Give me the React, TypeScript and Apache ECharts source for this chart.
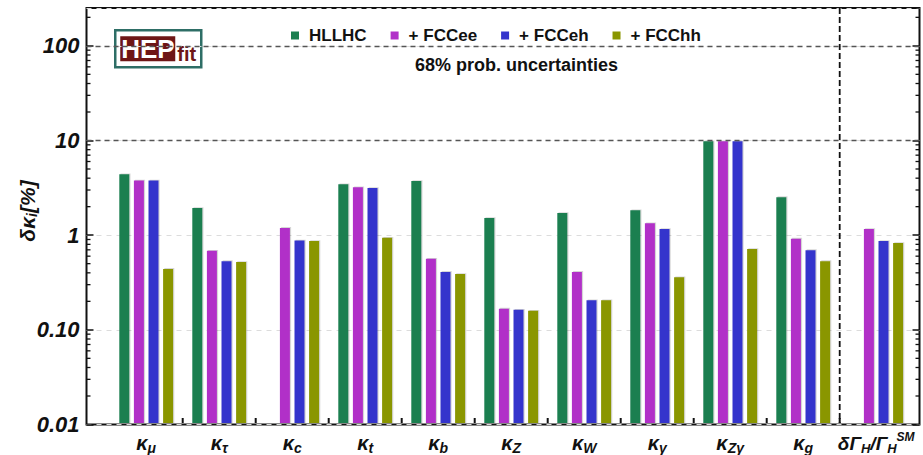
import React, { useEffect, useRef } from 'react';
import * as echarts from 'echarts';

// Couplings (rich-text labels for the category axis)
const CATEGORIES = [
  '{k|κ}{s|μ}',
  '{k|κ}{s|τ}',
  '{k|κ}{s|c}',
  '{k|κ}{s|t}',
  '{k|κ}{s|b}',
  '{k|κ}{s|Z}',
  '{k|κ}{s|W}',
  '{k|κ}{s|γ}',
  '{k|κ}{s|Zγ}',
  '{k|κ}{s|g}',
  '{g|δΓ}{h|H}{g|/Γ}{h|H}{p|SM}',
];

const SERIES_NAMES = ['HLLHC', '+ FCCee', '+ FCCeh', '+ FCChh'];
const SERIES_COLORS = ['#1b7f50', '#b130c8', '#3434cc', '#8a9600'];

// 68% probability uncertainties, in percent
const HLLHC = [4.33, 1.9, null, 3.4, 3.68, 1.49, 1.68, 1.8, 9.7, 2.48, null];
const FCCEE = [3.72, 0.67, 1.17, 3.16, 0.55, 0.163, 0.4, 1.31, 9.7, 0.9, 1.14];
const FCCEH = [3.72, 0.52, 0.86, 3.1, 0.4, 0.159, 0.2, 1.14, 9.7, 0.68, 0.85];
const FCCHH = [0.43, 0.51, 0.85, 0.92, 0.38, 0.155, 0.2, 0.35, 0.7, 0.52, 0.81];
const SERIES_VALUES = [HLLHC, FCCEE, FCCEH, FCCHH];

// Log axis
const Y_MIN = 0.01;
const Y_MAX = 251;
const Y_TICK_LABELS = ['0.01', '0.10', '1', '10', '100'];
const DECADES = [0.01, 0.1, 1, 10, 100];
const MANTISSAS = [2, 3, 4, 5, 6, 7, 8, 9];
const REFERENCE_LINES = [10, 100];

// Category boundaries that carry a tick; the last one is the dashed divider
const BOUNDARIES = [1, 2, 3, 4, 5, 6, 7, 8, 9, 10];
const DIVIDER_INDEX = 10;

const FONT = "'Liberation Sans', Arial, Helvetica, sans-serif";

const labelStyle = (size: number, lineHeight: number, verticalAlign?: string) => ({
  fontFamily: FONT,
  fontSize: size,
  fontWeight: 'bold',
  fontStyle: 'italic',
  color: '#111',
  lineHeight,
  ...(verticalAlign ? { verticalAlign } : {}),
});

export default function App() {
  const ref = useRef<HTMLDivElement>(null);

  useEffect(() => {
    const chart = echarts.init(ref.current!, null, { renderer: 'svg' });

    const minorTicks: number[][] = [];
    DECADES.forEach((d) =>
      MANTISSAS.forEach((m) => {
        const v = m * d;
        if (v < Y_MAX) minorTicks.push([0.5, v]);
      })
    );

    const gridFrame = { left: 86.5, right: 3.5, top: 8, bottom: 30.5 };
    const gridBars = { left: 109.7, right: 10.3, top: 8, bottom: 30.5 };

    const logAxisBase = {
      type: 'log',
      logBase: 10,
      min: Y_MIN,
      max: Y_MAX,
    };

    const barSeries = SERIES_VALUES.map((vals, s) => ({
      type: 'custom',
      name: SERIES_NAMES[s],
      xAxisIndex: 1,
      yAxisIndex: 2,
      z: 3,
      itemStyle: { color: SERIES_COLORS[s] },
      encode: { x: 0, y: 1 },
      data: vals
        .map((v, i) => (v == null ? null : [i, v]))
        .filter((d) => d !== null),
      renderItem: (params: any, api: any) => {
        const i = api.value(0);
        const v = api.value(1);
        const top = api.coord([i, v]);
        const band = api.size([1, 1])[0];
        const cs = params.coordSys;
        const w = band * 0.137;
        const cx = top[0] + (s - 1.5) * band * 0.2;
        const bottom = cs.y + cs.height;
        return {
          type: 'group',
          children: [
            {
              type: 'rect',
              shape: { x: cx - w / 2 + 1.2, y: top[1] - 0.8, width: w, height: bottom - top[1] + 0.8 },
              style: { fill: 'rgba(0,0,0,0.16)' },
            },
            {
              type: 'rect',
              shape: { x: cx - w / 2, y: top[1], width: w, height: bottom - top[1] },
              style: { fill: SERIES_COLORS[s] },
            },
          ],
        };
      },
    }));

    const option: any = {
      animation: false,
      backgroundColor: '#ffffff',
      textStyle: { fontFamily: FONT },
      grid: [
        { ...gridFrame, show: true, borderColor: '#111', borderWidth: 2, backgroundColor: 'transparent' },
        { ...gridBars },
      ],
      title: {
        text: '68% prob. uncertainties',
        left: 410,
        top: 51,
        textStyle: { fontFamily: FONT, fontSize: 18, fontWeight: 'bold', color: '#111' },
      },
      legend: {
        data: SERIES_NAMES,
        left: 286,
        top: 22,
        icon: 'rect',
        itemWidth: 8,
        itemHeight: 8,
        itemGap: 24,
        textStyle: { fontFamily: FONT, fontSize: 17, fontWeight: 'bold', color: '#111', padding: [0, 0, 0, 5] },
      },
      xAxis: [
        { gridIndex: 0, type: 'value', min: 0, max: 1, show: false },
        {
          gridIndex: 1,
          type: 'category',
          data: CATEGORIES,
          axisLine: { show: false },
          axisTick: { show: false },
          splitLine: { show: false },
          axisLabel: {
            margin: 8,
            interval: 0,
            rich: {
              k: labelStyle(20, 24),
              s: labelStyle(14, 14, 'bottom'),
              g: labelStyle(19, 24),
              h: labelStyle(13, 13, 'bottom'),
              p: labelStyle(12, 13, 'top'),
            },
          },
        },
      ],
      yAxis: [
        {
          ...logAxisBase,
          gridIndex: 0,
          position: 'left',
          axisLine: { show: false },
          axisTick: { show: true, inside: true, length: 7, lineStyle: { color: '#111', width: 1.5 } },
          splitLine: { show: true, lineStyle: { color: '#dcdcdc', type: [5, 5], width: 1 } },
          axisLabel: {
            margin: 7,
            showMaxLabel: false,
            fontFamily: FONT,
            fontSize: 22,
            fontWeight: 'bold',
            fontStyle: 'italic',
            color: '#111',
            formatter: (v: number) => {
              const e = Math.log10(v);
              const r = Math.round(e);
              if (Math.abs(e - r) > 1e-6) return '';
              return Y_TICK_LABELS[r + 2] ?? '';
            },
          },
        },
        {
          ...logAxisBase,
          gridIndex: 0,
          position: 'right',
          axisLine: { show: false },
          axisTick: { show: true, inside: true, length: 7, lineStyle: { color: '#111', width: 1.5 } },
          splitLine: { show: false },
          axisLabel: { show: false },
        },
        { ...logAxisBase, gridIndex: 1, show: false, splitLine: { show: false } },
      ],
      series: [
        {
          // minor log ticks on both vertical edges, plus the 10% / 100% reference lines
          type: 'custom',
          xAxisIndex: 0,
          yAxisIndex: 0,
          silent: true,
          z: 1,
          data: minorTicks,
          encode: { x: 0, y: 1 },
          renderItem: (params: any, api: any) => {
            const y = api.coord([0, api.value(1)])[1];
            const cs = params.coordSys;
            const st = { stroke: '#111', lineWidth: 1.3 };
            return {
              type: 'group',
              children: [
                { type: 'line', shape: { x1: cs.x, y1: y, x2: cs.x + 4, y2: y }, style: st },
                { type: 'line', shape: { x1: cs.x + cs.width - 4, y1: y, x2: cs.x + cs.width, y2: y }, style: st },
              ],
            };
          },
          markLine: {
            silent: true,
            symbol: 'none',
            label: { show: false },
            lineStyle: { color: '#555', type: [5, 4], width: 1.3 },
            data: REFERENCE_LINES.map((v) => ({ yAxis: v })),
          },
        },
        {
          // category separators and the dashed divider before the width ratio
          type: 'custom',
          xAxisIndex: 1,
          yAxisIndex: 2,
          silent: true,
          z: 4,
          data: BOUNDARIES.map((b) => [b, 1]),
          encode: { x: 0, y: 1 },
          renderItem: (params: any, api: any) => {
            const idx = api.value(0);
            const band = api.size([1, 1])[0];
            const x = api.coord([idx, 1])[0] - band / 2;
            const cs = params.coordSys;
            const bottom = cs.y + cs.height;
            const children: any[] = [
              { type: 'line', shape: { x1: x, y1: bottom, x2: x, y2: bottom - 5 }, style: { stroke: '#111', lineWidth: 2 } },
            ];
            if (idx === DIVIDER_INDEX) {
              children.push({
                type: 'line',
                shape: { x1: x, y1: cs.y, x2: x, y2: bottom },
                style: { stroke: '#111', lineWidth: 1.8, lineDash: [6, 3] },
              });
            }
            return { type: 'group', children };
          },
        },
        ...barSeries,
      ],
      graphic: [
        {
          // y-axis title
          type: 'text',
          x: 27,
          y: 211,
          rotation: Math.PI / 2,
          z: 100,
          style: {
            text: '{a|δκ}{b|i}{a|[%]}',
            align: 'center',
            verticalAlign: 'middle',
            rich: {
              a: { font: `italic bold 21px ${FONT}`, fill: '#111', lineHeight: 24 },
              b: { font: `italic bold 14px ${FONT}`, fill: '#111', lineHeight: 14, verticalAlign: 'bottom' },
            },
          },
        },
        {
          type: 'group',
          left: 114,
          top: 29,
          z: 100,
          children: [
            {
              type: 'rect',
              shape: { x: 0, y: 0, width: 86, height: 37 },
              style: { fill: '#ffffff', stroke: '#2e6e66', lineWidth: 2.5 },
            },
            {
              type: 'rect',
              shape: { x: 5, y: 6, width: 55, height: 25 },
              style: { fill: '#6e1616' },
            },
            {
              type: 'text',
              x: 6,
              y: 18.5,
              style: {
                text: 'HEP',
                fill: '#ffffff',
                font: `bold 26px ${FONT}`,
                verticalAlign: 'middle',
              },
            },
            {
              type: 'text',
              x: 62,
              y: 23.5,
              style: {
                text: 'fit',
                fill: '#6e1616',
                font: `bold 20px ${FONT}`,
                verticalAlign: 'middle',
              },
            },
          ],
        },
      ],
    };

    chart.setOption(option);
    return () => chart.dispose();
  }, []);

  return (
    <div
      ref={ref}
      style={{ position: 'fixed', left: 0, top: 0, width: 923, height: 455 }}
    />
  );
}
